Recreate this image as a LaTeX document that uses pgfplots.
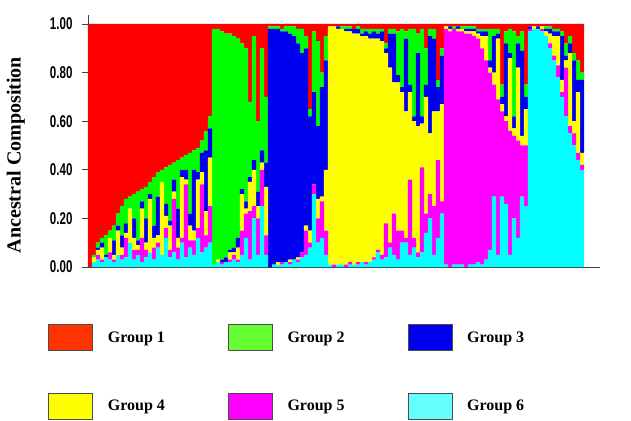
\documentclass[border=0pt]{standalone}
\usepackage{fontspec}
\setmainfont{Liberation Serif}
\newfontfamily\ticksfont{Liberation Sans}[FakeStretch=0.68]
\usepackage{pgfplots}
\usepackage{pgfplotstable}
\pgfplotsset{compat=1.18}
\definecolor{cR}{HTML}{FF0000}
\definecolor{cG}{HTML}{00FF00}
\definecolor{cB}{HTML}{0000F0}
\definecolor{cY}{HTML}{FFFF00}
\definecolor{cM}{HTML}{FF00FF}
\definecolor{cC}{HTML}{00FFFF}
\definecolor{lR}{HTML}{FF3300}
\definecolor{lG}{HTML}{66FF33}
\definecolor{lB}{HTML}{0000EE}
\definecolor{lY}{HTML}{FFFF00}
\definecolor{lM}{HTML}{FF00FF}
\definecolor{lC}{HTML}{66FFFF}
\pgfplotstableread{
i r g b y m c
1 1.00 0.00 0.00 0.00 0.00 0.00
2 0.95 0.01 0.00 0.02 0.00 0.02
3 0.90 0.02 0.01 0.02 0.02 0.03
4 0.88 0.02 0.02 0.05 0.01 0.02
5 0.87 0.08 0.01 0.00 0.00 0.04
6 0.85 0.03 0.00 0.06 0.03 0.03
7 0.83 0.06 0.06 0.02 0.01 0.02
8 0.78 0.05 0.02 0.10 0.00 0.05
9 0.75 0.12 0.05 0.03 0.02 0.03
10 0.72 0.10 0.04 0.02 0.08 0.04
11 0.71 0.05 0.00 0.14 0.00 0.10
12 0.70 0.10 0.08 0.05 0.04 0.03
13 0.69 0.20 0.02 0.02 0.02 0.05
14 0.68 0.05 0.03 0.12 0.10 0.02
15 0.67 0.13 0.10 0.03 0.03 0.04
16 0.65 0.05 0.02 0.22 0.00 0.06
17 0.63 0.20 0.05 0.04 0.05 0.03
18 0.61 0.10 0.16 0.03 0.02 0.08
19 0.60 0.05 0.00 0.30 0.00 0.05
20 0.59 0.15 0.05 0.05 0.04 0.12
21 0.58 0.23 0.02 0.10 0.03 0.04
22 0.57 0.07 0.05 0.03 0.22 0.06
23 0.56 0.20 0.12 0.04 0.05 0.03
24 0.55 0.05 0.03 0.25 0.02 0.10
25 0.54 0.06 0.04 0.02 0.30 0.04
26 0.53 0.25 0.05 0.06 0.03 0.08
27 0.52 0.08 0.25 0.04 0.06 0.05
28 0.51 0.10 0.03 0.20 0.04 0.12
29 0.48 0.05 0.08 0.05 0.28 0.06
30 0.44 0.08 0.25 0.10 0.05 0.08
31 0.38 0.05 0.12 0.20 0.15 0.10
32 0.02 0.97 0.00 0.00 0.00 0.01
33 0.02 0.95 0.00 0.01 0.00 0.02
34 0.03 0.94 0.01 0.00 0.01 0.01
35 0.04 0.92 0.02 0.00 0.00 0.02
36 0.04 0.89 0.01 0.03 0.01 0.02
37 0.05 0.87 0.02 0.01 0.02 0.03
38 0.06 0.82 0.04 0.05 0.01 0.02
39 0.08 0.60 0.02 0.15 0.10 0.05
40 0.10 0.63 0.03 0.02 0.10 0.12
41 0.32 0.31 0.02 0.12 0.20 0.03
42 0.05 0.51 0.04 0.15 0.05 0.20
43 0.40 0.29 0.06 0.05 0.15 0.05
44 0.10 0.42 0.05 0.03 0.15 0.25
45 0.30 0.27 0.10 0.20 0.08 0.05
46 0.01 0.01 0.98 0.00 0.00 0.00
47 0.01 0.01 0.97 0.00 0.00 0.01
48 0.01 0.01 0.96 0.01 0.00 0.01
49 0.02 0.01 0.95 0.00 0.01 0.01
50 0.01 0.02 0.95 0.00 0.00 0.02
51 0.01 0.03 0.93 0.01 0.01 0.01
52 0.01 0.04 0.92 0.00 0.00 0.03
53 0.02 0.06 0.88 0.01 0.01 0.02
54 0.02 0.10 0.82 0.00 0.02 0.04
55 0.05 0.05 0.73 0.02 0.10 0.05
56 0.35 0.03 0.47 0.05 0.02 0.08
57 0.03 0.25 0.38 0.00 0.04 0.30
58 0.07 0.35 0.30 0.08 0.10 0.10
59 0.20 0.06 0.45 0.02 0.15 0.12
60 0.05 0.10 0.45 0.25 0.10 0.05
61 0.01 0.00 0.00 0.98 0.00 0.01
62 0.01 0.00 0.00 0.98 0.01 0.00
63 0.01 0.00 0.01 0.97 0.00 0.01
64 0.01 0.01 0.00 0.97 0.00 0.01
65 0.01 0.01 0.01 0.96 0.01 0.00
66 0.01 0.01 0.01 0.95 0.01 0.01
67 0.02 0.00 0.02 0.95 0.00 0.01
68 0.01 0.01 0.02 0.94 0.01 0.01
69 0.02 0.02 0.01 0.93 0.00 0.02
70 0.02 0.01 0.02 0.93 0.01 0.01
71 0.02 0.02 0.02 0.92 0.00 0.02
72 0.02 0.01 0.03 0.90 0.01 0.03
73 0.02 0.02 0.02 0.87 0.01 0.06
74 0.02 0.01 0.04 0.88 0.02 0.03
75 0.08 0.02 0.02 0.70 0.14 0.04
76 0.02 0.02 0.14 0.72 0.02 0.08
77 0.02 0.02 0.20 0.54 0.17 0.05
78 0.03 0.18 0.03 0.61 0.12 0.03
79 0.02 0.24 0.02 0.57 0.05 0.10
80 0.03 0.03 0.30 0.52 0.02 0.10
81 0.02 0.23 0.03 0.36 0.31 0.05
82 0.02 0.36 0.02 0.48 0.04 0.08
83 0.04 0.08 0.30 0.52 0.02 0.04
84 0.02 0.36 0.03 0.18 0.35 0.06
85 0.10 0.15 0.05 0.48 0.08 0.14
86 0.02 0.03 0.40 0.25 0.10 0.20
87 0.02 0.04 0.30 0.39 0.20 0.05
88 0.23 0.03 0.10 0.20 0.32 0.12
89 0.10 0.03 0.20 0.40 0.05 0.22
90 0.01 0.00 0.00 0.01 0.97 0.01
91 0.01 0.00 0.01 0.01 0.97 0.00
92 0.01 0.01 0.00 0.00 0.97 0.01
93 0.01 0.00 0.01 0.01 0.96 0.01
94 0.01 0.01 0.00 0.01 0.96 0.01
95 0.01 0.01 0.01 0.01 0.96 0.00
96 0.01 0.01 0.01 0.01 0.95 0.01
97 0.01 0.01 0.01 0.02 0.94 0.01
98 0.02 0.01 0.01 0.02 0.92 0.02
99 0.02 0.01 0.02 0.05 0.89 0.01
100 0.02 0.01 0.02 0.10 0.82 0.03
101 0.02 0.13 0.03 0.02 0.73 0.07
102 0.02 0.03 0.15 0.05 0.46 0.29
103 0.02 0.02 0.02 0.25 0.64 0.05
104 0.25 0.05 0.03 0.03 0.35 0.29
105 0.03 0.05 0.30 0.02 0.34 0.26
106 0.02 0.10 0.02 0.30 0.51 0.05
107 0.03 0.35 0.05 0.03 0.34 0.20
108 0.05 0.03 0.10 0.30 0.40 0.12
109 0.03 0.08 0.35 0.04 0.21 0.29
110 0.25 0.05 0.05 0.15 0.25 0.25
111 0.01 0.00 0.01 0.00 0.01 0.97
112 0.01 0.00 0.00 0.01 0.00 0.98
113 0.01 0.00 0.01 0.00 0.00 0.98
114 0.01 0.00 0.00 0.01 0.01 0.97
115 0.01 0.01 0.01 0.02 0.00 0.95
116 0.01 0.01 0.02 0.04 0.02 0.90
117 0.02 0.01 0.02 0.08 0.02 0.85
118 0.02 0.01 0.02 0.12 0.05 0.78
119 0.03 0.02 0.18 0.05 0.02 0.70
120 0.08 0.05 0.02 0.03 0.20 0.62
121 0.05 0.03 0.04 0.30 0.03 0.55
122 0.12 0.03 0.25 0.05 0.05 0.50
123 0.15 0.08 0.05 0.25 0.03 0.44
124 0.20 0.03 0.30 0.05 0.02 0.40
}\structdata
\begin{document}
\begin{tikzpicture}
\useasboundingbox (-88bp,-154bp) rectangle (543bp,267bp);
\begin{axis}[
  at={(0,0)}, anchor=south west,
  scale only axis, width=512bp, height=252bp,
  ybar stacked, bar width=1.06,
  xmin=0.5, xmax=128.5, ymin=0, ymax=1.037,
  axis x line=bottom, axis y line=left,
  axis line style={-, black!75, line width=0.8pt},
  xtick=\empty,
  ytick={0,0.2,0.4,0.6,0.8,1},
  tick align=outside, major tick length=6bp,
  tick style={black!75, line width=0.8pt},
  yticklabel style={font=\ticksfont\bfseries\fontsize{17bp}{19bp}\selectfont,
    xshift=-6bp,
    /pgf/number format/.cd, fixed, fixed zerofill, precision=2, assume math mode=true},
  ylabel={Ancestral Composition},
  ylabel style={font=\bfseries\fontsize{20bp}{23bp}\selectfont,
    at={(axis description cs:-0.141,0.444)}, anchor=center},
  legend columns=3,
  legend style={at={(axis description cs:-0.078,-0.226)}, anchor=north west,
    draw=none, fill=none, inner sep=0pt, row sep=42bp,
    cells={anchor=west},
    nodes={inner sep=0pt, font=\bfseries\fontsize{16bp}{18bp}\selectfont},
    /tikz/every odd column/.append style={column sep=15bp},
    /tikz/every even column/.append style={column sep=63bp}},
]
\addplot[fill=cC, draw=none, forget plot] table[x=i, y=c]{\structdata};
\addplot[fill=cM, draw=none, forget plot] table[x=i, y=m]{\structdata};
\addplot[fill=cY, draw=none, forget plot] table[x=i, y=y]{\structdata};
\addplot[fill=cB, draw=none, forget plot] table[x=i, y=b]{\structdata};
\addplot[fill=cG, draw=none, forget plot] table[x=i, y=g]{\structdata};
\addplot[fill=cR, draw=none, forget plot] table[x=i, y=r]{\structdata};
\addlegendimage{/pgfplots/legend image code/.code={\draw[fill=lR, draw=black!70, line width=0.6pt] (0bp,-13bp) rectangle (44bp,13bp);}}
\addlegendentry{Group 1}
\addlegendimage{/pgfplots/legend image code/.code={\draw[fill=lG, draw=black!70, line width=0.6pt] (0bp,-13bp) rectangle (44bp,13bp);}}
\addlegendentry{Group 2}
\addlegendimage{/pgfplots/legend image code/.code={\draw[fill=lB, draw=black!70, line width=0.6pt] (0bp,-13bp) rectangle (44bp,13bp);}}
\addlegendentry{Group 3}
\addlegendimage{/pgfplots/legend image code/.code={\draw[fill=lY, draw=black!70, line width=0.6pt] (0bp,-13bp) rectangle (44bp,13bp);}}
\addlegendentry{Group 4}
\addlegendimage{/pgfplots/legend image code/.code={\draw[fill=lM, draw=black!70, line width=0.6pt] (0bp,-13bp) rectangle (44bp,13bp);}}
\addlegendentry{Group 5}
\addlegendimage{/pgfplots/legend image code/.code={\draw[fill=lC, draw=black!70, line width=0.6pt] (0bp,-13bp) rectangle (44bp,13bp);}}
\addlegendentry{Group 6}
\end{axis}
\end{tikzpicture}
\end{document}
